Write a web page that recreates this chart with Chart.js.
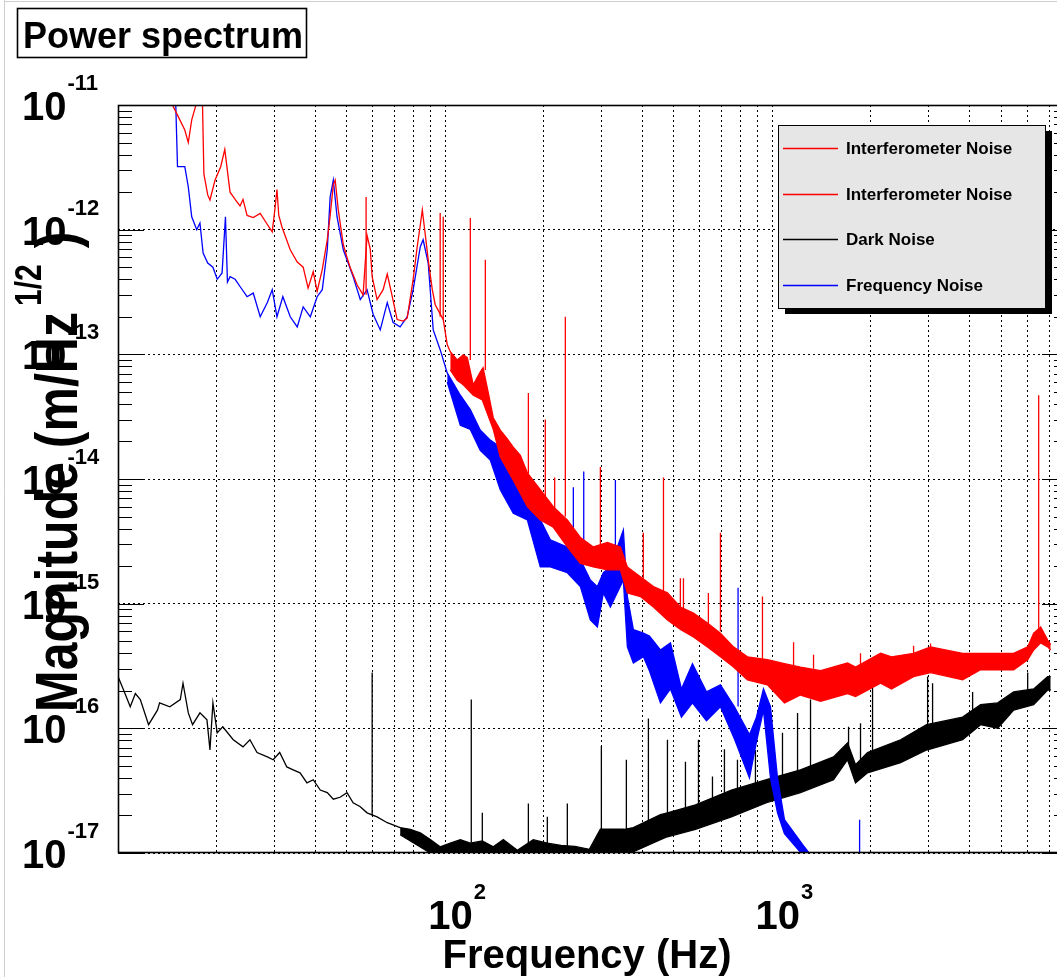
<!DOCTYPE html>
<html>
<head>
<meta charset="utf-8">
<title>Power spectrum</title>
<script src="https://cdn.jsdelivr.net/npm/chart.js@4.4.0/dist/chart.umd.min.js"></script>
<style>
  html, body { margin: 0; padding: 0; background: #fff; overflow: hidden; }
  #wrap { position: relative; width: 1057px; height: 977px; overflow: hidden; }
</style>
</head>
<body>
<div id="wrap"><canvas id="spectrum" width="1068" height="977"></canvas></div>
<script>
// values: frequency in Hz, magnitude in m/Hz^1/2

// Interferometer Noise (upper edge / thin line)
const redFreq = [13.4, 14.4, 15.2, 16.0, 16.4, 16.8, 17.4, 17.8, 18.1, 18.3, 18.8, 19.1, 19.8, 20.6, 21.2, 22.0, 22.8, 23.6, 24.1, 24.8,
  25.9, 27.2, 28.6, 29.6, 30.2, 30.6, 31.0, 31.7, 33.6, 35.3, 36.8, 38.1, 39.5, 40.6, 42.1, 43.6, 44.5, 45.5, 46.1, 47.1,
  48.8, 50.1, 51.2, 53.8, 56.1, 57.7, 59.0, 59.8, 61.9, 64.6, 66.5, 68.9, 71.3, 74.4, 76.5, 79.8, 82.1, 83.9, 85.1, 86.9,
  88.7, 91.3, 93.2, 98.6, 101.4, 103.6, 108.8, 113.5, 116.8, 121.8, 127.9, 130.5, 135.4, 140.2, 147.3, 154.8, 161.4, 169.6, 178.2, 195.2,
  213.9, 236.1, 258.8, 283.6, 312.9, 342.9, 360.2, 394.8, 432.7, 477.6, 523.3, 573.5, 632.9, 693.4, 760, 838.5, 965, 1088, 1218, 1403,
  1696, 1794, 2140, 2311, 2699, 3042, 3811, 4326, 5458, 6024, 6284, 6602, 6934, 7083];
const redMag = [1.3e-11, 1.1e-11, 8.3e-12, 6.3e-12, 5.0e-12, 7.6e-12, 1.05e-11, 1.2e-11, 1.2e-11, 2.8e-12, 1.9e-12, 1.73e-12, 2.5e-12, 3.2e-12, 4.4e-12, 2.0e-12, 1.75e-12, 1.55e-12, 1.75e-12, 1.3e-12,
  1.25e-12, 1.35e-12, 1.1e-12, 9.6e-13, 1.5e-12, 2.1e-12, 1.3e-12, 1.05e-12, 6.9e-13, 5.5e-13, 5.0e-13, 3.4e-13, 4.6e-13, 3.2e-13, 4.8e-13, 8.3e-13, 1.3e-12, 2.3e-12, 2.5e-12, 1.45e-12,
  7.6e-13, 6.0e-13, 5.0e-13, 3.6e-13, 3.0e-13, 9.0e-13, 7.0e-13, 4.2e-13, 2.75e-13, 3.3e-13, 4.4e-13, 2.9e-13, 1.9e-13, 1.85e-13, 1.95e-13, 4.0e-13, 7.3e-13, 1.09e-12, 1.44e-12, 9.1e-13,
  5.75e-13, 3.3e-13, 2.5e-13, 1.9e-13, 1.2e-13, 1.05e-13, 9.0e-14, 9.9e-14, 9.4e-14, 5.7e-14, 7.2e-14, 7.8e-14, 4.9e-14, 3.1e-14, 2.47e-14, 2.1e-14, 1.8e-14, 1.55e-14, 1.12e-14, 8.2e-15,
  6.0e-15, 4.7e-15, 3.4e-15, 2.85e-15, 3.1e-15, 2.85e-15, 1.97e-15, 1.64e-15, 1.37e-15, 1.22e-15, 9.4e-16, 8.4e-16, 7.0e-16, 5.8e-16, 4.5e-16, 3.75e-16, 3.55e-16, 3.3e-16, 3.1e-16, 2.9e-16,
  3.34e-16, 3.1e-16, 4.0e-16, 3.75e-16, 4.0e-16, 4.5e-16, 4.0e-16, 4.0e-16, 4.0e-16, 4.5e-16, 5.8e-16, 6.5e-16, 5.1e-16, 4.7e-16];
// lower edge of the noisy red band
const redLowFreq = [103.6, 108.8, 113.5, 121.8, 129.8, 140.2, 147.3, 161.4, 178.2, 195.2, 213.9, 236.1, 258.8, 283.6, 312.9, 342.9, 360.2, 394.8, 432.7, 477.6,
  523.3, 573.5, 632.9, 693.4, 760, 838.5, 965, 1088, 1218, 1403, 1696, 1794, 2140, 2311, 2699, 3042, 3811, 4326, 5458, 6024,
  6284, 6602, 6934, 7083];
const redLowMag = [7.5e-14, 6.2e-14, 5.7e-14, 4.7e-14, 4.3e-14, 2.5e-14, 1.5e-14, 9.8e-15, 6.0e-15, 4.7e-15, 4.1e-15, 2.85e-15, 2.1e-15, 1.97e-15, 1.87e-15, 1.87e-15, 1.22e-15, 1.14e-15, 9.4e-16, 7.4e-16,
  6.2e-16, 5.4e-16, 4.5e-16, 3.75e-16, 3.1e-16, 2.45e-16, 2.23e-16, 1.6e-16, 1.85e-16, 1.65e-16, 1.9e-16, 1.8e-16, 2.3e-16, 2.07e-16, 2.6e-16, 2.8e-16, 2.45e-16, 2.95e-16, 2.95e-16, 3.55e-16,
  4.25e-16, 4.85e-16, 4.5e-16, 4.25e-16];
const redSpikeFreq = [57.3, 96.5, 98.6, 119.3, 132.6, 179.5, 202.2, 216, 232.8, 297.9, 403, 464.4, 523, 534.5, 637, 693.4, 932, 1160, 1335, 1858, 2699, 3042, 6509];
const redSpikeTop = [1.83e-12, 1.36e-12, 1.27e-12, 1.24e-12, 5.75e-13, 4.9e-14, 3.0e-14, 1.03e-14, 2.0e-13, 1.25e-14, 3.7e-15, 1.03e-14, 1.6e-15, 1.6e-15, 1.22e-15, 3.7e-15, 1.14e-15, 4.9e-16, 3.9e-16, 4.0e-16, 4.6e-16, 4.8e-16, 4.7e-14];
const redSpikeBase = [3.0e-13, 2.0e-13, 1.9e-13, 9.0e-14, 7.5e-14, 1.1e-14, 7.0e-15, 5.0e-15, 5.0e-15, 3.0e-15, 1.4e-15, 1.2e-15, 9.0e-16, 9.0e-16, 6.5e-16, 6.0e-16, 3.6e-16, 3.2e-16, 3.0e-16, 3.2e-16, 3.8e-16, 4.0e-16, 6.0e-16];

// Dark Noise
const darkFreq = [10.0, 10.4, 10.9, 11.3, 11.7, 12.4, 13.2, 13.4, 14.4, 15.5, 15.8, 16.4, 16.9, 17.8, 18.7, 19.1, 19.5, 20.1, 20.9, 22.5,
  24.1, 25.3, 26.6, 28.6, 29.8, 31.2, 32.8, 34.3, 36.0, 37.8, 39.5, 41.5, 43.6, 45.5, 47.7, 50.1, 52.3, 55.0, 57.7, 61.9,
  66.5, 72.8, 78.2, 83.9, 90.0, 96.5, 103.6, 111.2, 119.3, 129.8, 140.2, 150.5, 166.1, 185.8, 205.1, 226, 249, 275.7, 297.9, 352.7,
  375.8, 454.6, 477.6, 581.6, 602.5, 749, 958.9, 1218, 1537, 1696, 1794, 1952, 2463, 2958, 3811, 4326, 4878, 5458, 6284, 6934, 7083];
const darkMag = [2.6e-16, 2.03e-16, 1.49e-16, 1.9e-16, 1.7e-16, 1.07e-16, 1.4e-16, 1.6e-16, 1.49e-16, 1.7e-16, 2.3e-16, 1.33e-16, 1.07e-16, 1.33e-16, 1.17e-16, 6.7e-17, 1.6e-16, 9.2e-17, 1.03e-16, 8.1e-17,
  7.1e-17, 8.1e-17, 6.4e-17, 5.9e-17, 5.6e-17, 6.4e-17, 4.9e-17, 4.65e-17, 4.4e-17, 3.65e-17, 3.87e-17, 3.2e-17, 3.05e-17, 2.7e-17, 2.8e-17, 3.05e-17, 2.53e-17, 2.35e-17, 2.1e-17, 1.95e-17,
  1.75e-17, 1.6e-17, 1.55e-17, 1.45e-17, 1.28e-17, 1.12e-17, 1.2e-17, 1.28e-17, 1.2e-17, 1.25e-17, 1.12e-17, 1.28e-17, 1.05e-17, 1.28e-17, 1.2e-17, 1.15e-17, 1.13e-17, 1.07e-17, 1.55e-17, 1.55e-17,
  1.6e-17, 2.03e-17, 2.1e-17, 2.43e-17, 2.53e-17, 3.2e-17, 3.87e-17, 4.65e-17, 5.9e-17, 7.65e-17, 5.1e-17, 6.4e-17, 8.1e-17, 1.07e-16, 1.23e-16, 1.55e-16, 1.6e-16, 1.96e-16, 2.07e-16, 2.6e-16, 2.6e-16];
const darkLowFreq = [72.8, 90.0, 119.3, 200, 297.9, 352.7, 454.6, 477.6, 581.6, 602.5, 749, 958.9, 1218, 1537, 1696, 1794, 1952, 2463, 2958, 3811, 4326, 4878, 5458, 6284, 6934, 7083];
const darkLowMag = [1.4e-17, 1.0e-17, 7e-18, 6e-18, 1.03e-17, 9.5e-18, 1.28e-17, 1.35e-17, 1.55e-17, 1.6e-17, 1.95e-17, 2.53e-17, 3.05e-17, 3.87e-17, 5.6e-17, 3.65e-17, 4.4e-17, 5.3e-17, 6.7e-17, 8.1e-17, 1.07e-16, 1.0e-16, 1.4e-16, 1.55e-16, 2.03e-16, 2.03e-16];
const darkSpikeFreq = [59.8, 120.1, 129.8, 179.5, 205.1, 236.1, 300, 357.7, 417.7, 477.6, 542.1, 594.1, 655.6, 713.2, 781.6, 887.1, 1073, 1193, 1307, 1708, 1858, 2022, 2979, 3085, 4089, 6024];
const darkSpikeTop = [2.8e-16, 1.7e-16, 2.1e-17, 2.5e-17, 1.95e-17, 2.5e-17, 7.2e-17, 5.6e-17, 1.2e-16, 8.1e-17, 5.4e-17, 8.1e-17, 4.1e-17, 6.8e-17, 5.6e-17, 6.7e-17, 9.2e-17, 1.33e-16, 1.7e-16, 1.03e-16, 1.1e-16, 2.4e-16, 2.6e-16, 2.3e-16, 1.96e-16, 2.8e-16];
const darkSpikeBase = [2.0e-17, 1.2e-17, 1.1e-17, 1.1e-17, 1.1e-17, 1.1e-17, 1.3e-17, 1.4e-17, 1.7e-17, 1.8e-17, 2.0e-17, 2.2e-17, 2.6e-17, 2.7e-17, 3.0e-17, 3.3e-17, 3.8e-17, 4.0e-17, 4.4e-17, 6.0e-17, 5.0e-17, 5.5e-17, 9.0e-17, 9.0e-17, 1.2e-16, 1.8e-16];

// Frequency Noise
const freqNoiseFreq = [13.7, 15.0, 15.2, 16.0, 16.4, 16.8, 17.4, 17.8, 18.2, 18.8, 19.5, 20.1, 20.8, 21.3, 21.6, 22.0, 22.8, 23.6, 24.8, 25.9,
  27.2, 28.6, 29.6, 30.6, 31.9, 33.6, 35.3, 36.8, 38.7, 40.6, 42.1, 43.6, 44.5, 45.5, 46.7, 48.8, 52.3, 55.0, 57.7, 60.2,
  63.3, 66.5, 69.3, 72.8, 76.5, 79.8, 83.9, 85.6, 88.7, 91.9, 96.5, 101.4, 111.2, 119.3, 127.9, 137.3, 147.3, 161.4, 178.2, 195.2,
  209.5, 236.1, 258.8, 277.6, 291.7, 304.2, 319.6, 350.2, 360.2, 375.8, 403.3, 420.7, 454.6, 487.8, 527, 569.5, 628.5, 693.4, 765.3, 850.5,
  893.5, 938.6, 986, 1036, 1088, 1235, 1335, 1505];
const freqNoiseMag = [1.3e-11, 1.1e-11, 3.2e-12, 3.2e-12, 2.2e-12, 1.27e-12, 1.0e-12, 1.13e-12, 6.5e-13, 5.4e-13, 5.0e-13, 4.0e-13, 4.5e-13, 1.27e-12, 3.8e-13, 4.2e-13, 4.0e-13, 3.5e-13, 2.9e-13, 3.1e-13,
  2.0e-13, 2.6e-13, 3.3e-13, 2.0e-13, 2.9e-13, 2.0e-13, 1.66e-13, 2.4e-13, 2.0e-13, 2.9e-13, 3.3e-13, 6.9e-13, 1.83e-12, 2.5e-12, 1.27e-12, 6.9e-13, 4.2e-13, 2.75e-13, 3.3e-13, 2.1e-13,
  1.57e-13, 2.6e-13, 1.8e-13, 1.66e-13, 2.0e-13, 3.3e-13, 7.3e-13, 8.3e-13, 5.4e-13, 1.57e-13, 1.09e-13, 7.1e-14, 4.7e-14, 3.6e-14, 2.47e-14, 2.05e-14, 1.8e-14, 9.8e-15, 8.2e-15, 4.7e-15,
  3.25e-15, 2.85e-15, 2.25e-15, 1.55e-15, 1.37e-15, 1.77e-15, 1.97e-15, 3.9e-15, 1.14e-15, 6.2e-16, 5.8e-16, 5.5e-16, 4.25e-16, 4.85e-16, 2.07e-16, 3.3e-16, 1.96e-16, 2.23e-16, 1.49e-16, 8.9e-17,
  1.23e-16, 2.07e-16, 1.49e-16, 4.0e-17, 1.85e-17, 1.17e-17, 9e-18, 4e-18];
const freqNoiseLowFreq = [101.4, 111.2, 119.3, 127.9, 137.3, 147.3, 161.4, 178.2, 195.2, 209.5, 236.1, 258.8, 277.6, 291.7, 304.2, 319.6, 350.2, 360.2, 375.8, 403.3,
  420.7, 454.6, 487.8, 527, 569.5, 628.5, 693.4, 765.3, 850.5, 893.5, 938.6, 986, 1036, 1088, 1235, 1335, 1505];
const freqNoiseLowMag = [6.0e-14, 2.7e-14, 2.5e-14, 1.7e-14, 1.42e-14, 8.2e-15, 5.3e-15, 4.7e-15, 1.97e-15, 1.97e-15, 1.77e-15, 1.37e-15, 7.4e-16, 6.5e-16, 1.22e-15, 9.4e-16, 1.55e-15, 4.5e-16, 3.34e-16, 3.75e-16,
  2.9e-16, 1.6e-16, 2.07e-16, 1.23e-16, 1.6e-16, 1.15e-16, 1.49e-16, 8.2e-17, 4.0e-17, 7.8e-17, 1.4e-16, 4.0e-17, 2.1e-17, 1.43e-17, 9.7e-18, 8e-18, 4e-18];
const freqNoiseSpikeFreq = [246.3, 265, 331.1, 785, 1846];
const freqNoiseSpikeTop = [8.6e-15, 1.15e-14, 9.8e-15, 1.34e-15, 1.85e-17];
const freqNoiseSpikeBase = [2.5e-15, 2.5e-15, 1.7e-15, 1.5e-16, 5e-18];

// axes
const xMin = 10, xMax = 8000;
const yMin = 1e-17, yMax = 1e-11;
const xTickValues = [100, 1000];
const xTickExps = ['2', '3'];
const yTickValues = [1e-11, 1e-12, 1e-13, 1e-14, 1e-15, 1e-16, 1e-17];
const yTickExps = ['-11', '-12', '-13', '-14', '-15', '-16', '-17'];

const FONT = '"Liberation Sans", Arial, Helvetica, sans-serif';
const RED = '#ff0000', BLUE = '#0000ff', BLACK = '#000000';

// grid at 1..9 x 10^n on x, minor tick marks at 2..9 x 10^n on y
const xGrid = [];
for (const d of [10, 100, 1000]) {
  for (let m = 1; m <= 9; m++) {
    const v = m * d;
    if (v > xMin && v < xMax) xGrid.push(v);
  }
}
const yMinor = [];
for (let e = -17; e <= -12; e++) {
  for (let m = 2; m <= 9; m++) yMinor.push(Number((m * Math.pow(10, e)).toPrecision(3)));
}

const pts = (fs, ms) => fs.map((f, i) => ({x: f, y: ms[i]}));
const spikes = (fs, tops, bases) => fs.flatMap((f, i) => [{x: f, y: bases[i]}, {x: f, y: tops[i]}, {x: f, y: null}]);

const line = (label, color, data, order, extra) => Object.assign({
  label: label,
  data: data,
  borderColor: color,
  backgroundColor: color,
  borderWidth: 1.3,
  pointRadius: 0,
  tension: 0,
  fill: false,
  order: order
}, extra || {});

const datasets = [
  line('Interferometer Noise', RED, pts(redFreq, redMag), 0),
  line('Interferometer Noise', RED, pts(redLowFreq, redLowMag), 0, {fill: {target: 0}}),
  line('Dark Noise', BLACK, pts(darkFreq, darkMag), 2),
  line('', BLACK, pts(darkLowFreq, darkLowMag), 2, {fill: {target: 2}}),
  line('Frequency Noise', BLUE, pts(freqNoiseFreq, freqNoiseMag), 1),
  line('', BLUE, pts(freqNoiseLowFreq, freqNoiseLowMag), 1, {fill: {target: 4}}),
  line('', RED, spikes(redSpikeFreq, redSpikeTop, redSpikeBase), 0),
  line('', BLACK, spikes(darkSpikeFreq, darkSpikeTop, darkSpikeBase), 2),
  line('', BLUE, spikes(freqNoiseSpikeFreq, freqNoiseSpikeTop, freqNoiseSpikeBase), 1)
];

// superscripted "10^n" label
function powLabel(ctx, exp, x, y, baseSize, expSize, expRaise) {
  ctx.font = 'bold ' + baseSize + 'px ' + FONT;
  ctx.textAlign = 'left';
  ctx.textBaseline = 'alphabetic';
  const w = ctx.measureText('10').width;
  ctx.fillText('10', x, y);
  ctx.font = 'bold ' + expSize + 'px ' + FONT;
  ctx.fillText(exp, x + w + 1, y - expRaise);
  return w;
}

const rootFrame = {
  id: 'rootFrame',
  afterDatasetsDraw(chart) {
    const {ctx, chartArea: a, scales} = chart;
    const y = scales.y;
    ctx.save();
    ctx.strokeStyle = '#000';
    ctx.lineWidth = 1;
    ctx.beginPath();
    for (const v of yMinor) {
      const py = Math.round(y.getPixelForValue(v)) + 0.5;
      ctx.moveTo(a.left, py); ctx.lineTo(a.left + 14, py);
      ctx.moveTo(a.right, py); ctx.lineTo(a.right - 14, py);
    }
    for (const v of yTickValues) {
      const py = Math.round(y.getPixelForValue(v)) + 0.5;
      ctx.moveTo(a.left, py); ctx.lineTo(a.left + 26, py);
      ctx.moveTo(a.right, py); ctx.lineTo(a.right - 26, py);
    }
    ctx.stroke();
    ctx.lineWidth = 1.6;
    ctx.strokeRect(a.left + 0.5, a.top + 0.5, a.right - a.left - 1, a.bottom - a.top - 1);
    ctx.restore();
  },
  afterDraw(chart) {
    const {ctx, scales} = chart;
    const x = scales.x, y = scales.y;
    ctx.save();

    // window border
    ctx.strokeStyle = '#cfcfcf';
    ctx.lineWidth = 1;
    ctx.beginPath();
    ctx.moveTo(4.5, 0); ctx.lineTo(4.5, 977);
    ctx.moveTo(4, 1.5); ctx.lineTo(1068, 1.5);
    ctx.stroke();

    // title box
    ctx.fillStyle = '#000';
    ctx.strokeStyle = '#000';
    ctx.lineWidth = 1.6;
    ctx.strokeRect(17.5, 8.5, 289, 49);
    ctx.font = 'bold 36px ' + FONT;
    ctx.textAlign = 'left';
    ctx.textBaseline = 'alphabetic';
    ctx.fillText('Power spectrum', 23, 48);

    // y tick labels
    yTickValues.forEach((v, i) => {
      const py = y.getPixelForValue(v);
      powLabel(ctx, yTickExps[i], 22, py + 15, 40, 22, 30);
    });
    // x tick labels
    xTickValues.forEach((v, i) => {
      const px = x.getPixelForValue(v);
      powLabel(ctx, xTickExps[i], px - 17, 929, 40, 22, 30);
    });

    // x title
    ctx.font = 'bold 40px ' + FONT;
    ctx.textAlign = 'center';
    ctx.fillText('Frequency (Hz)', 587, 968);

    // y title, rotated, starts at the bottom
    ctx.save();
    ctx.translate(77, 712);
    ctx.rotate(-Math.PI / 2);
    ctx.scale(1, 1.2);
    ctx.textAlign = 'left';
    const big = 'bold 50px ' + FONT, small = 'bold 30px ' + FONT;
    ctx.font = big;
    const w1 = ctx.measureText('Magnitude (m/Hz').width;
    ctx.fillText('Magnitude (m/Hz', 0, 0);
    ctx.font = small;
    const w2 = ctx.measureText('1/2').width;
    ctx.fillText('1/2', w1 + 6, -30);
    ctx.font = big;
    ctx.fillText(')', w1 + w2 + 22, 0);
    ctx.restore();

    // legend box with shadow
    const items = chart.data.datasets.filter(d => d.label);
    const bx = 778, by = 125, bw = 267, bh = 183;
    ctx.fillStyle = '#000';
    ctx.fillRect(bx + 7, by + 6, bw, bh);
    ctx.fillStyle = '#e6e6e6';
    ctx.fillRect(bx, by, bw, bh);
    ctx.strokeStyle = '#000';
    ctx.lineWidth = 1;
    ctx.strokeRect(bx + 0.5, by + 0.5, bw, bh);
    ctx.font = 'bold 17px ' + FONT;
    ctx.textAlign = 'left';
    ctx.textBaseline = 'middle';
    items.forEach((d, i) => {
      const cy = Math.round(by + 23 + i * 45.7) + 0.5;
      ctx.strokeStyle = d.borderColor;
      ctx.lineWidth = 1.4;
      ctx.beginPath();
      ctx.moveTo(bx + 5, cy); ctx.lineTo(bx + 60, cy);
      ctx.stroke();
      ctx.fillStyle = '#000';
      ctx.fillText(d.label, bx + 68, cy + 1);
    });
    ctx.restore();
  }
};

new Chart(document.getElementById('spectrum').getContext('2d'), {
  type: 'line',
  data: {datasets: datasets},
  options: {
    responsive: false,
    animation: false,
    devicePixelRatio: 1,
    events: [],
    layout: {padding: {top: 105, left: 0, right: 0, bottom: 0}},
    plugins: {
      legend: {display: false},
      title: {display: false},
      tooltip: {enabled: false}
    },
    scales: {
      x: {
        type: 'logarithmic',
        min: xMin,
        max: xMax,
        afterBuildTicks: (axis) => { axis.ticks = xGrid.map(v => ({value: v})); },
        afterFit: (axis) => { axis.height = 124; },
        ticks: {display: false},
        grid: {color: '#000', lineWidth: 1, drawTicks: false},
        border: {display: false, dash: [2, 3]}
      },
      y: {
        type: 'logarithmic',
        min: yMin,
        max: yMax,
        afterBuildTicks: (axis) => { axis.ticks = yTickValues.map(v => ({value: v})); },
        afterFit: (axis) => { axis.width = 118; },
        ticks: {display: false},
        grid: {color: '#000', lineWidth: 1, drawTicks: false},
        border: {display: false, dash: [2, 3]}
      }
    }
  },
  plugins: [rootFrame]
});
</script>
</body>
</html>
